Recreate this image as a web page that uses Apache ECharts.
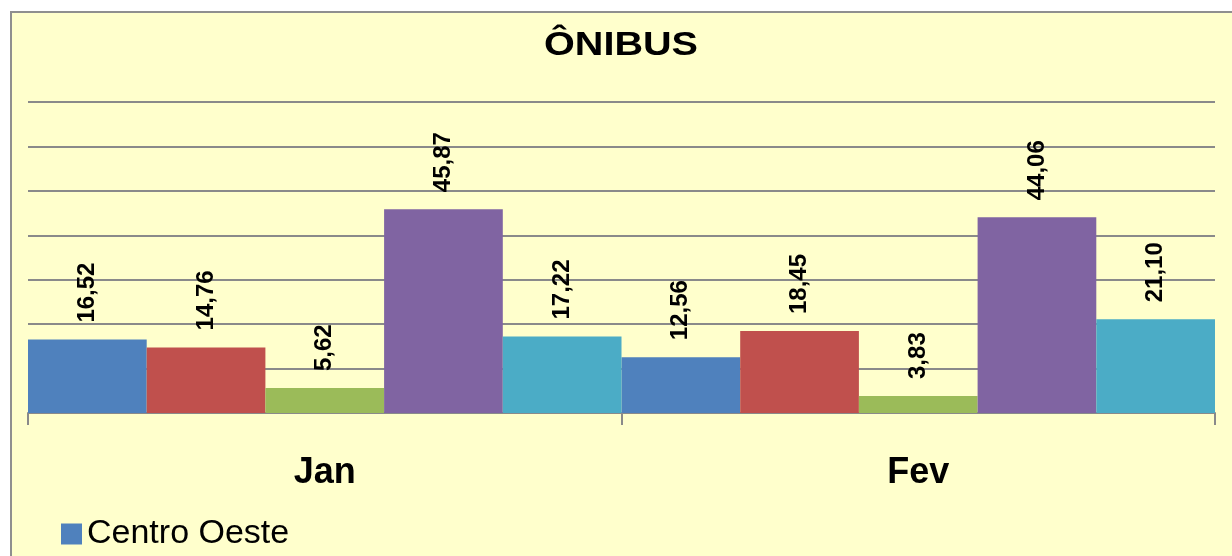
<!DOCTYPE html>
<html>
<head>
<meta charset="utf-8">
<script src="https://cdn.jsdelivr.net/npm/echarts@6/dist/echarts.min.js"></script>
<style>
html,body{margin:0;padding:0;background:#ffffff;width:1232px;height:556px;overflow:hidden;}
#box{position:absolute;left:10px;top:11px;width:1300px;height:600px;border:2px solid #8f8f8f;background:#FFFFCC;box-sizing:border-box;}
#chart{position:absolute;left:0;top:0;width:1232px;height:556px;}
</style>
</head>
<body>
<div id="box"></div>
<div id="chart"></div>
<script>
const titleText = 'ÔNIBUS';
const categories = ['Jan', 'Fev'];
const seriesNames = ['Centro Oeste', 'Nordeste', 'Norte', 'Sudeste', 'Sul'];
const centroOeste = [16.52, 12.56];
const nordeste = [14.76, 18.45];
const norte = [5.62, 3.83];
const sudeste = [45.87, 44.06];
const sul = [17.22, 21.10];
const colors = ['#4F81BD', '#C0504D', '#9BBB59', '#8064A2', '#4BACC6'];

const allValues = [centroOeste, nordeste, norte, sudeste, sul];
const chart = echarts.init(document.getElementById('chart'), null, {renderer: 'canvas'});
const fmt = v => v.toFixed(2).replace('.', ',');

chart.setOption({
  backgroundColor: 'transparent',
  animation: false,
  textStyle: {fontFamily: 'Liberation Sans, Arial, sans-serif'},
  graphic: [{
    type: 'text', x: 621, y: 46, scaleX: 1.2,
    style: {text: titleText, font: 'bold 33px "Liberation Sans", Arial, sans-serif', fill: '#000', textAlign: 'center', textVerticalAlign: 'middle'}
  }],
  legend: {
    orient: 'vertical', left: 56, top: 512, height: 400, itemWidth: 21, itemHeight: 21, itemGap: 30,
    icon: 'rect',
    data: seriesNames,
    textStyle: {fontSize: 34, color: '#000', fontFamily: 'Liberation Sans, Arial, sans-serif', padding: [0, 0, 0, 0]}
  },
  grid: {left: 28, right: 17, top: 102, bottom: 143},
  xAxis: {
    type: 'category', data: categories,
    axisLine: {lineStyle: {color: '#8a8a8a', width: 2}},
    axisTick: {show: true, length: 12, lineStyle: {color: '#8a8a8a', width: 2}},
    axisLabel: {fontSize: 36, fontWeight: 'bold', color: '#000', margin: 42}
  },
  yAxis: {
    type: 'value', min: 0, max: 70, interval: 10,
    axisLabel: {show: false}, axisLine: {show: false}, axisTick: {show: false},
    splitLine: {lineStyle: {color: '#8a8a8a', width: 2}}
  },
  series: seriesNames.map((name, i) => ({
    name: name, type: 'bar', data: allValues[i],
    barGap: '0%', barCategoryGap: '0%',
    itemStyle: {color: colors[i]},
    label: {
      show: true, position: 'top', rotate: 90, align: 'left', verticalAlign: 'middle',
      distance: 17, fontSize: 24, fontWeight: 'bold', color: '#000',
      formatter: p => fmt(p.value)
    }
  }))
});
</script>
</body>
</html>
